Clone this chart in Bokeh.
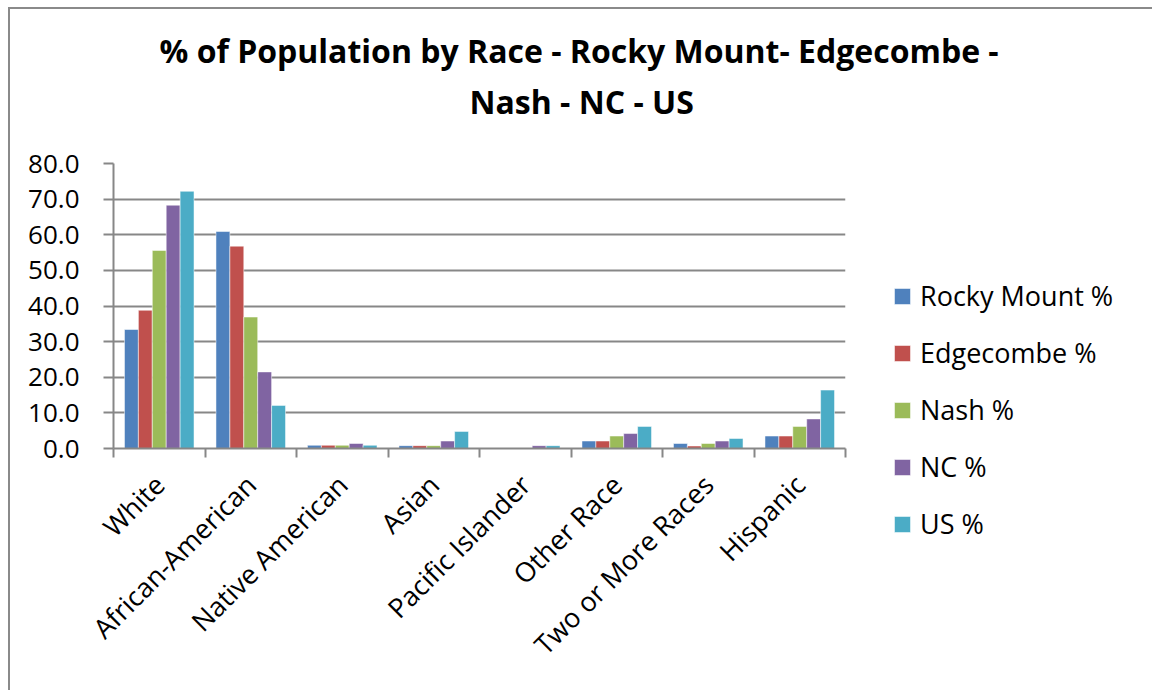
import numpy as np
from bokeh.plotting import figure
from bokeh.models import FixedTicker, NumeralTickFormatter, Range1d, Title
from bokeh.embed import file_html
from bokeh.resources import INLINE

categories = ["White", "African-American", "Native American", "Asian",
              "Pacific Islander", "Other Race", "Two or More Races", "Hispanic"]
series_names = ["Rocky Mount %", "Edgecombe %", "Nash %", "NC %", "US %"]
rocky_mount = [33.4, 60.9, 0.9, 0.8, 0.0, 2.1, 1.4, 3.5]
edgecombe = [38.8, 56.8, 0.9, 0.8, 0.0, 2.1, 0.7, 3.5]
nash = [55.6, 36.9, 0.9, 0.8, 0.0, 3.5, 1.4, 6.2]
nc = [68.3, 21.5, 1.4, 2.1, 0.8, 4.2, 2.1, 8.3]
us = [72.2, 12.1, 0.9, 4.8, 0.8, 6.2, 2.8, 16.4]
series_values = [rocky_mount, edgecombe, nash, nc, us]
colors = ["#4F81BD", "#C0504D", "#9BBB59", "#8064A2", "#4BACC6"]
y_ticks = [0, 10, 20, 30, 40, 50, 60, 70, 80]
title_lines = ["% of Population by Race - Rocky Mount- Edgecombe -", "Nash - NC - US"]

FONT = "Open Sans"
GRAY = "#878787"

p = figure(frame_width=732, frame_height=285, output_backend="svg", toolbar_location=None,
           x_range=Range1d(0, len(categories)), y_range=Range1d(0, 80),
           min_border_left=103, min_border_right=305, min_border_top=154,
           min_border_bottom=242,
           styles={"border-top": "2px solid #8a8a8a", "border-left": "2px solid #8a8a8a",
                   "border-right": "2px solid #8a8a8a"},
           margin=(7, 0, 0, 8))

def style_title(t):
    t.text_font = FONT
    t.text_font_size = "32px"
    t.text_font_style = "bold"
    t.text_color = "black"
    t.align = "left"

# outermost: first title line
p.title.text = title_lines[0]
style_title(p.title)
p.title.offset = 46
p.title.standoff = 12

# closest to the frame: small spacer that lifts the title block
spacer = Title(text=" ", text_font_size="1px", standoff=38)
p.add_layout(spacer, "above")

# second title line
t2 = Title(text=title_lines[1])
style_title(t2)
t2.offset = 356
t2.standoff = 0
p.add_layout(t2, "above")

w = 0.152
centers = np.arange(len(categories)) + 0.5
for i, (name, vals) in enumerate(zip(series_names, series_values)):
    p.vbar(x=centers + (i - 2) * w, top=vals, width=w, bottom=0,
           fill_color=colors[i], line_color="white", line_alpha=0.5, line_width=1,
           legend_label=name)

# y axis
p.yaxis.ticker = FixedTicker(ticks=y_ticks)
p.yaxis.formatter = NumeralTickFormatter(format="0.0")
p.yaxis.major_label_text_font = FONT
p.yaxis.major_label_text_font_size = "26px"
p.yaxis.major_label_text_color = "black"
p.yaxis.axis_line_color = GRAY
p.yaxis.axis_line_width = 2
p.yaxis.major_tick_line_color = GRAY
p.yaxis.major_tick_line_width = 2
p.yaxis.major_tick_out = 10
p.yaxis.major_tick_in = 0
p.yaxis.minor_tick_line_color = None
p.yaxis.major_label_standoff = 24

# x axis
p.xaxis.ticker = FixedTicker(ticks=list(centers), minor_ticks=list(range(len(categories) + 1)))
p.xaxis.major_label_overrides = {float(c): cat for c, cat in zip(centers, categories)}
p.xaxis.major_label_orientation = np.pi / 4
p.xaxis.major_label_text_font = FONT
p.xaxis.major_label_text_font_size = "27px"
p.xaxis.major_label_text_color = "black"
p.xaxis.axis_line_color = GRAY
p.xaxis.axis_line_width = 2
p.xaxis.major_tick_line_color = None
p.xaxis.minor_tick_line_color = GRAY
p.xaxis.minor_tick_line_width = 2
p.xaxis.minor_tick_out = 9
p.xaxis.minor_tick_in = 0
p.xaxis.major_label_standoff = 22

p.xgrid.grid_line_color = None
p.ygrid.ticker = FixedTicker(ticks=y_ticks)
p.ygrid.grid_line_color = GRAY
p.ygrid.grid_line_width = 2
p.outline_line_color = None

leg = p.legend[0]
p.center.remove(leg)
p.add_layout(leg, "right")
leg.location = (47, -94)
leg.border_line_color = None
leg.background_fill_alpha = 0
leg.padding = 0
leg.margin = 0
leg.glyph_width = 20
leg.glyph_height = 20
leg.label_height = 37
leg.spacing = 20
leg.label_standoff = 8
leg.label_text_font = FONT
leg.label_text_font_size = "27px"
leg.label_text_color = "black"

open("out.html", "w").write(file_html(p, INLINE))
